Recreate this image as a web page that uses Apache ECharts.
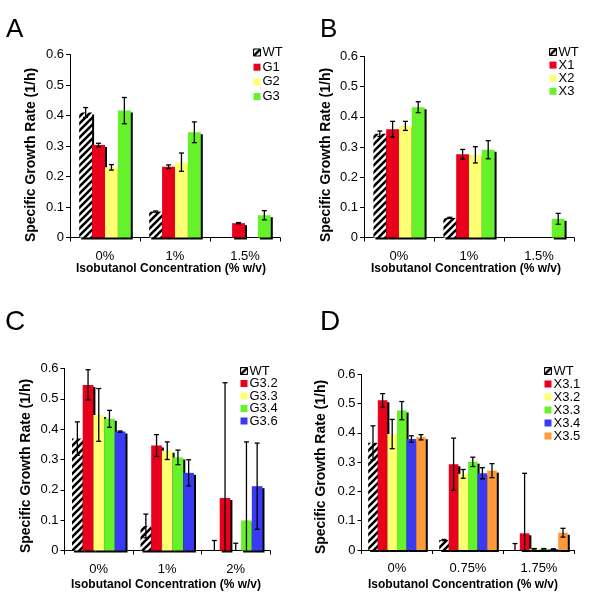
<!DOCTYPE html>
<html>
<head>
<meta charset="utf-8">
<script src="https://cdn.jsdelivr.net/npm/echarts@6/dist/echarts.min.js"></script>
<style>html,body{margin:0;padding:0;background:#fff;}#c{width:600px;height:600px;}</style>
</head>
<body>
<div id="c"></div>
<script>
// ---------- DATA ----------
const yTitle = 'Specific Growth Rate (1/h)';
const xTitle = 'Isobutanol Concentration (% w/v)';
const panelLetters = ['A', 'B', 'C', 'D'];

const catsA = ['0%', '1%', '1.5%'];
const namesA = ['WT', 'G1', 'G2', 'G3'];
const valuesA = [
  [0.410, 0.085, 0],
  [0.303, 0.232, 0.047],
  [0.230, 0.247, 0],
  [0.416, 0.345, 0.073]
];
const errorsA = [
  [0.016, 0.002, 0],
  [0.006, 0.006, 0.002],
  [0.009, 0.030, 0],
  [0.043, 0.034, 0.015]
];

const catsB = ['0%', '1%', '1.5%'];
const namesB = ['WT', 'X1', 'X2', 'X3'];
const valuesB = [
  [0.344, 0.065, 0],
  [0.359, 0.276, 0],
  [0.370, 0.274, 0],
  [0.432, 0.291, 0.062]
];
const errorsB = [
  [0.009, 0.002, 0],
  [0.026, 0.016, 0],
  [0.015, 0.027, 0],
  [0.018, 0.030, 0.018]
];

const catsC = ['0%', '1%', '2%'];
const namesC = ['WT', 'G3.2', 'G3.3', 'G3.4', 'G3.6'];
const valuesC = [
  [0.369, 0.081, 0],
  [0.546, 0.346, 0.173],
  [0.447, 0.329, 0],
  [0.434, 0.307, 0.099],
  [0.392, 0.256, 0.212]
];
const errorsC = [
  [0.055, 0.039, 0.033],
  [0.050, 0.036, 0.380],
  [0.087, 0.029, 0.024],
  [0.028, 0.024, 0.259],
  [0.002, 0.043, 0.142]
];

const catsD = ['0%', '0.75%', '1.75%'];
const namesD = ['WT', 'X3.1', 'X3.2', 'X3.3', 'X3.4', 'X3.5'];
const valuesD = [
  [0.366, 0.034, 0],
  [0.511, 0.293, 0.057],
  [0.396, 0.260, 0.004],
  [0.476, 0.301, 0.004],
  [0.379, 0.262, 0.003],
  [0.385, 0.271, 0.059]
];
const errorsD = [
  [0.058, 0.002, 0.022],
  [0.023, 0.089, 0.205],
  [0.050, 0.015, 0.001],
  [0.031, 0.016, 0.001],
  [0.011, 0.019, 0.001],
  [0.009, 0.024, 0.015]
];

// ---------- STYLE ----------
const FONT = 'Liberation Sans';
const RED = '#e8001c', YEL = '#ffff73', GRN = '#66f22a', BLU = '#3a3af5', ORG = '#ff9a3a';

function hatch() {
  const s = 7, cv = document.createElement('canvas');
  cv.width = s; cv.height = s;
  const ctx = cv.getContext('2d');
  ctx.fillStyle = '#fff'; ctx.fillRect(0, 0, s, s);
  ctx.strokeStyle = '#000'; ctx.lineWidth = 2.6;
  ctx.beginPath();
  ctx.moveTo(0, s); ctx.lineTo(s, 0);
  ctx.moveTo(-1, 1); ctx.lineTo(1, -1);
  ctx.moveTo(s - 1, s + 1); ctx.lineTo(s + 1, s - 1);
  ctx.stroke();
  return cv;
}
const HATCH = { image: hatch(), repeat: 'repeat' };

const panels = [
  { cats: catsA, names: namesA, vals: valuesA, errs: errorsA, colors: [HATCH, RED, YEL, GRN],
    grid: { left: 70, top: 54.5, width: 210, height: 183 }, bw: 12.9,
    legend: { left: 253, top: 46, itemGap: 1.7 },
    letter: { x: 6, y: 30, size: 26 }, yT: [31.5, 155], xT: [171, 269] },
  { cats: catsB, names: namesB, vals: valuesB, errs: errorsB, colors: [HATCH, RED, YEL, GRN],
    grid: { left: 364, top: 56.5, width: 210, height: 181 }, bw: 12.8,
    legend: { left: 549, top: 45.5, itemGap: 0.1 },
    letter: { x: 320, y: 30, size: 26 }, yT: [326.5, 155], xT: [466, 269] },
  { cats: catsC, names: namesC, vals: valuesC, errs: errorsC, colors: [HATCH, RED, YEL, GRN, BLU],
    grid: { left: 64.5, top: 368.5, width: 205.5, height: 182 }, bw: 10.7,
    legend: { left: 240, top: 364.5, itemGap: -0.5 },
    letter: { x: 5, y: 322, size: 28 }, yT: [26.5, 466], xT: [166, 585] },
  { cats: catsD, names: namesD, vals: valuesD, errs: errorsD, colors: [HATCH, RED, YEL, GRN, BLU, ORG],
    grid: { left: 361.5, top: 374.3, width: 213, height: 175.7 }, bw: 9.6,
    legend: { left: 544, top: 364.5, itemGap: 0 },
    letter: { x: 320, y: 322, size: 28 }, yT: [321.5, 467], xT: [463, 585] }
];

const option = {
  animation: false,
  backgroundColor: '#fff',
  textStyle: { fontFamily: FONT },
  grid: [], xAxis: [], yAxis: [], legend: [], series: [], graphic: []
};

panels.forEach((p, gi) => {
  option.graphic.push(
    { type: 'text', x: p.letter.x, y: p.letter.y, silent: true,
      style: { text: panelLetters[gi], font: p.letter.size + 'px "Liberation Sans"', fill: '#000', align: 'left', verticalAlign: 'middle' } },
    { type: 'text', x: p.yT[0], y: p.yT[1], rotation: Math.PI / 2, silent: true,
      style: { text: yTitle, font: 'bold 14px "Liberation Sans"', fill: '#000', align: 'center', verticalAlign: 'middle' } },
    { type: 'text', x: p.xT[0], y: p.xT[1], silent: true,
      style: { text: xTitle, font: 'bold 12px "Liberation Sans"', fill: '#000', align: 'center', verticalAlign: 'middle' } }
  );
  option.grid.push(Object.assign({ containLabel: false }, p.grid));
  option.xAxis.push({
    type: 'category', gridIndex: gi, data: p.cats,
    axisLine: { lineStyle: { color: '#000', width: 1 } },
    axisTick: { show: true, length: 4, lineStyle: { color: '#000' } },
    axisLabel: { fontFamily: FONT, fontSize: 13, color: '#000', margin: 12 },
    splitLine: { show: false }
  });
  option.yAxis.push({
    type: 'value', gridIndex: gi, min: 0, max: 0.6, interval: 0.1,
    axisLine: { show: true, lineStyle: { color: '#000', width: 1 } },
    axisTick: { show: true, length: 4, lineStyle: { color: '#000' } },
    axisLabel: { fontFamily: FONT, fontSize: 13, color: '#000', margin: 6,
      formatter: v => String(+v.toFixed(1)) },
    splitLine: { show: false }
  });
  option.legend.push({
    orient: 'vertical', left: p.legend.left, top: p.legend.top, itemGap: p.legend.itemGap,
    itemWidth: 7, itemHeight: 7, padding: 0,
    textStyle: { fontFamily: FONT, fontSize: 13, color: '#000', padding: [0, 0, 0, -3] },
    data: p.names.map((n, k) => k === 0
      ? { name: n, icon: 'rect', itemStyle: { borderColor: '#000', borderWidth: 1 } }
      : { name: n, icon: 'rect' })
  });
  p.names.forEach((n, k) => {
    option.series.push({
      type: 'bar', name: n, xAxisIndex: gi, yAxisIndex: gi,
      data: p.vals[k], barWidth: p.bw, barGap: '0%',
      itemStyle: { color: p.colors[k], shadowColor: '#000', shadowBlur: 0, shadowOffsetX: 2, shadowOffsetY: 2 },
      emphasis: { disabled: true }
    });
  });
  const n = p.names.length;
  const errData = [];
  p.names.forEach((nm, k) => p.cats.forEach((c, ci) => {
    if (p.errs[k][ci] > 0) errData.push([ci, k, p.vals[k][ci], p.errs[k][ci]]);
  }));
  option.series.push({
    type: 'custom', xAxisIndex: gi, yAxisIndex: gi, z: 10, silent: true,
    data: errData,
    renderItem: (params, api) => {
      const ci = api.value(0), k = api.value(1), v = api.value(2), e = api.value(3);
      const c = api.coord([ci, v]);
      const x = c[0] + (k - (n - 1) / 2) * p.bw;
      const yt = api.coord([ci, v + e])[1];
      const lo = v - e;
      const yb = api.coord([ci, Math.max(0, lo)])[1];
      const cap = 2.5;
      const st = { stroke: '#000', lineWidth: 1.3 };
      const children = [
        { type: 'line', shape: { x1: x, y1: yt, x2: x, y2: yb }, style: st },
        { type: 'line', shape: { x1: x - cap, y1: yt, x2: x + cap, y2: yt }, style: st }
      ];
      if (lo > 0) children.push({ type: 'line', shape: { x1: x - cap, y1: yb, x2: x + cap, y2: yb }, style: st });
      return { type: 'group', children };
    }
  });
});

const chart = echarts.init(document.getElementById('c'), null, { renderer: 'canvas' });
chart.setOption(option);
</script>
</body>
</html>
